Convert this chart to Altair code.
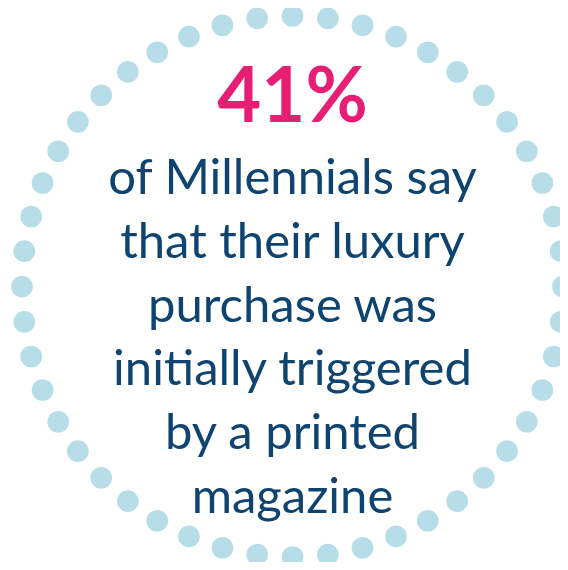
import altair as alt
import pandas as pd
import numpy as np

# ---- content ----
headline = ["41%"]
body_lines = [
    "of Millennials say",
    "that their luxury",
    "purchase was",
    "initially triggered",
    "by a printed",
    "magazine",
]
n_dots = 48

# ---- layout (page pixels -> unit circle) ----
W, H = 552, 554
R = 270.5                 # ring radius in px
CX, CY = 284.5, 278.5     # ring centre in chart px
xdom = [-CX / R, (W - CX) / R]
ydom = [-(H - CY) / R, CY / R]

def uy(py):
    return (CY - py) / R

ang = np.deg2rad(90 - np.arange(n_dots) * 360.0 / n_dots)
dots = pd.DataFrame({"x": np.cos(ang), "y": np.sin(ang)})

head_df = pd.DataFrame({"t": headline, "x": [0.0], "y": [uy(114)]})
pitch = 63.8
body_df = pd.DataFrame({
    "t": body_lines,
    "x": [0.0] * len(body_lines),
    "y": [uy(186 + pitch * i) for i in range(len(body_lines))],
})

xs = alt.Scale(domain=xdom, nice=False, zero=False)
ys = alt.Scale(domain=ydom, nice=False, zero=False)

ring = alt.Chart(dots).mark_circle(size=470, opacity=1, color="#B7DEE8").encode(
    x=alt.X("x:Q", scale=xs, axis=None),
    y=alt.Y("y:Q", scale=ys, axis=None),
)

head = alt.Chart(head_df).mark_text(
    font="Lato", fontWeight="bold", fontSize=76, color="#E81E75",
    align="center", baseline="alphabetic",
).encode(
    x=alt.X("x:Q", scale=xs, axis=None),
    y=alt.Y("y:Q", scale=ys, axis=None),
    text="t:N",
)

body = alt.Chart(body_df).mark_text(
    font="Lato", fontSize=49, color="#0F4470",
    align="center", baseline="alphabetic",
).encode(
    x=alt.X("x:Q", scale=xs, axis=None),
    y=alt.Y("y:Q", scale=ys, axis=None),
    text="t:N",
)

chart = alt.layer(ring, head, body).properties(
    width=W, height=H, padding=0, autosize="none", background="white"
).configure_view(strokeWidth=0)

chart.save("out.html", embed_options={"renderer": "svg", "actions": False})
